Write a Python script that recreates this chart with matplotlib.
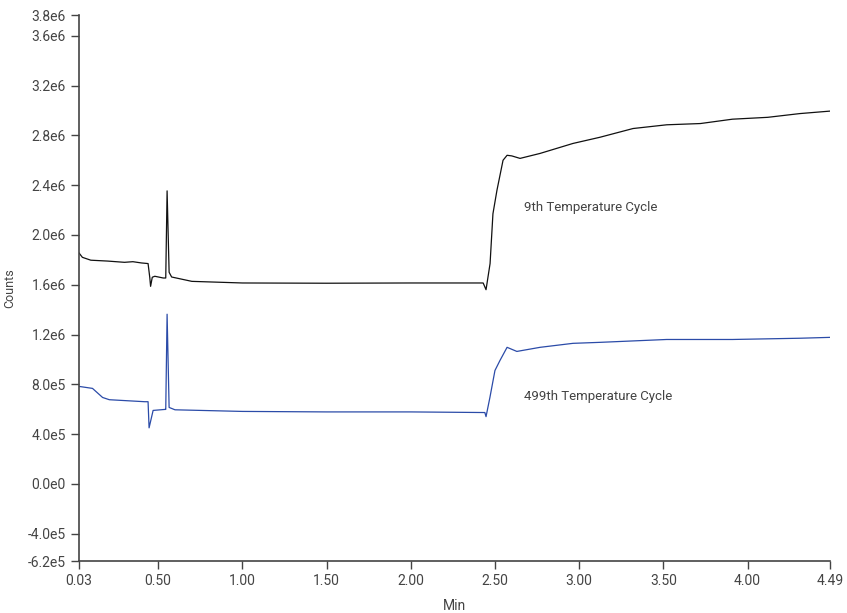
import matplotlib
matplotlib.use("Agg")
import matplotlib.pyplot as plt
import numpy as np

plt.rcParams['font.family'] = ['Roboto', 'DejaVu Sans']

# 9th temperature cycle (black)
x9 = [0.03, 0.05, 0.10, 0.20, 0.30, 0.35, 0.40, 0.44, 0.45, 0.455, 0.465, 0.48,
      0.53, 0.545, 0.553, 0.565, 0.58, 0.70, 1.00, 1.50, 2.00, 2.43, 2.447,
      2.471, 2.488, 2.512, 2.548, 2.572, 2.60, 2.649, 2.768, 2.963, 3.124,
      3.32, 3.52, 3.72, 3.91, 4.12, 4.31, 4.49]
y9 = [1.855, 1.82, 1.797, 1.79, 1.78, 1.785, 1.775, 1.77, 1.66, 1.587, 1.66, 1.668,
      1.654, 1.654, 2.354, 1.70, 1.662, 1.627, 1.614, 1.612, 1.614, 1.614, 1.56,
      1.77, 2.17, 2.36, 2.60, 2.64, 2.635, 2.615, 2.655, 2.735, 2.785,
      2.855, 2.885, 2.895, 2.93, 2.945, 2.975, 2.995]

# 499th temperature cycle (blue)
x499 = [0.03, 0.11, 0.17, 0.21, 0.42, 0.44, 0.446, 0.47, 0.54, 0.545, 0.553,
        0.565, 0.60, 1.00, 1.50, 2.00, 2.44, 2.447, 2.47, 2.50, 2.53, 2.572,
        2.63, 2.768, 2.963, 3.124, 3.52, 3.91, 4.31, 4.49]
y499 = [0.783, 0.767, 0.694, 0.676, 0.66, 0.66, 0.45, 0.59, 0.598, 0.598, 1.363,
        0.614, 0.595, 0.582, 0.578, 0.578, 0.573, 0.54, 0.694, 0.911, 0.992, 1.097,
        1.064, 1.097, 1.129, 1.137, 1.16, 1.16, 1.17, 1.177]

xticks = [0.03, 0.50, 1.00, 1.50, 2.00, 2.50, 3.00, 3.50, 4.00, 4.49]
yticks = [3.767e6, 3.6e6, 3.2e6, 2.8e6, 2.4e6, 2.0e6, 1.6e6, 1.2e6, 8.0e5, 4.0e5, 0.0, -4.0e5, -6.2e5]
ylabels = ['3.8e6', '3.6e6', '3.2e6', '2.8e6', '2.4e6', '2.0e6', '1.6e6', '1.2e6',
           '8.0e5', '4.0e5', '0.0e0', '-4.0e5', '-6.2e5']

fig = plt.figure(figsize=(8.47, 6.13), dpi=100)
ax = fig.add_axes([0.0933, 0.0848, 0.8867, 0.8907])

ax.plot(x9, np.array(y9) * 1e6, color='#111111', lw=0.9)
ax.plot(x499, np.array(y499) * 1e6, color='#2b4ba8', lw=0.9)

ax.text(2.672, 2.218e6, '9th Temperature Cycle', fontsize=9.5, color='#444444', va='center')
ax.text(2.672, 0.70e6, '499th Temperature Cycle', fontsize=9.5, color='#444444', va='center')

ax.set_xlim(0.03, 4.49)
ax.set_ylim(-6.2e5, 3.767e6)
ax.set_xticks(xticks)
ax.set_xticklabels(['%.2f' % v for v in xticks])
ax.set_yticks(yticks)
ax.set_yticklabels(ylabels)

for s in ['top', 'right']:
    ax.spines[s].set_visible(False)
for s in ['left', 'bottom']:
    ax.spines[s].set_color('#444444')
    ax.spines[s].set_linewidth(1.2)
ax.tick_params(direction='out', length=6, width=1, color='#444444',
               labelcolor='#444444', labelsize=10)

ax.set_xlabel('Min', fontsize=10, color='#444444', labelpad=8)
ax.set_ylabel('Counts', fontsize=9, color='#444444')
ax.yaxis.set_label_coords(-0.083, 0.5)

fig.savefig('out.png', dpi=100)
